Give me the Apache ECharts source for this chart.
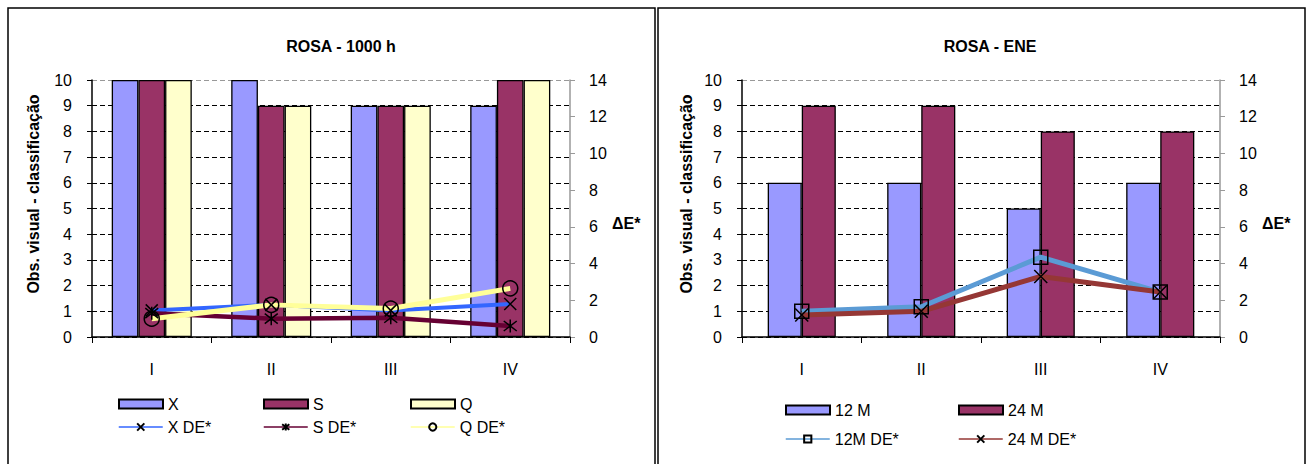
<!DOCTYPE html>
<html>
<head>
<meta charset="utf-8">
<script src="https://cdn.jsdelivr.net/npm/echarts@6/dist/echarts.min.js"></script>
<style>
html,body{margin:0;padding:0;background:#fff;}
#chart{width:1312px;height:464px;}
</style>
</head>
<body>
<div id="chart"></div>
<script>
// ---- data ----
const categories = ['I', 'II', 'III', 'IV'];
// left chart: ROSA - 1000 h
const leftX = [10, 10, 9, 9];
const leftS = [10, 9, 9, 10];
const leftQ = [10, 9, 9, 10];
const leftXDE = [1.45, 1.75, 1.45, 1.8];
const leftSDE = [1.3, 1.0, 1.05, 0.6];
const leftQDE = [1.0, 1.75, 1.55, 2.65];
// right chart: ROSA - ENE
const right12M = [6, 6, 5, 6];
const right24M = [9, 9, 8, 8];
const right12MDE = [1.4, 1.65, 4.35, 2.45];
const right24MDE = [1.2, 1.4, 3.3, 2.45];
// axis settings
const obsTicks = { min: 0, max: 10, interval: 1 };
const deTicks = { min: 0, max: 14, interval: 2 };

const FONT = 'Liberation Sans, Arial, sans-serif';
const crossPath = 'path://M0,0L10,10M10,0L0,10';
const starPath = 'path://M0,0L10,10M10,0L0,10M5,-1.5L5,11.5';

const chart = echarts.init(document.getElementById('chart'), null, { renderer: 'svg' });

const gridLineColors = ['#000','#000','#000','#000','#000','#000','#000','#000','#000','#000','#999'];

function leftAxis(gridIndex) {
  return {
    type: 'value', gridIndex, min: obsTicks.min, max: obsTicks.max, interval: obsTicks.interval,
    position: 'left',
    axisLine: { show: true, lineStyle: { color: '#000', width: 1.5 } },
    axisTick: { show: true, length: 5, lineStyle: { color: '#000', width: 1 } },
    axisLabel: { color: '#000', fontSize: 16, fontFamily: FONT, margin: 20 },
    splitLine: { show: true, lineStyle: { color: gridLineColors, type: [5, 3], width: 1 } }
  };
}
function rightAxis(gridIndex) {
  return {
    type: 'value', gridIndex, min: deTicks.min, max: deTicks.max, interval: deTicks.interval,
    position: 'right',
    axisLine: { show: true, lineStyle: { color: '#999', width: 1.5 } },
    axisTick: { show: true, length: 5, lineStyle: { color: '#999', width: 1 } },
    axisLabel: { color: '#000', fontSize: 16, fontFamily: FONT, margin: 19 },
    splitLine: { show: false }
  };
}
function catAxis(gridIndex) {
  return {
    type: 'category', gridIndex, data: categories,
    axisLine: { show: true, lineStyle: { color: '#000', width: 1.5 } },
    axisTick: { show: true, length: 6, lineStyle: { color: '#000', width: 1 } },
    axisLabel: { color: '#000', fontSize: 16, fontFamily: FONT, margin: 24 }
  };
}
function barSeries(name, data, color, xi, yi, gap) {
  return {
    name, type: 'bar', data, xAxisIndex: xi, yAxisIndex: yi,
    barGap: '0%', barCategoryGap: gap,
    itemStyle: { color, borderColor: '#000', borderWidth: 1.3 },
    z: 2
  };
}
function lineSeries(name, data, color, width, symbol, size, xi, yi) {
  return {
    name, type: 'line', data, xAxisIndex: xi, yAxisIndex: yi,
    symbol, symbolSize: size, showSymbol: true,
    lineStyle: { color, width },
    itemStyle: { color: 'rgba(0,0,0,0)', borderColor: '#000', borderWidth: 1.5 },
    z: 5
  };
}
function leg(name, left, top, isLine, lineColor) {
  const d = { name };
  if (isLine) d.lineStyle = { color: lineColor, width: 1.5 };
  else d.icon = 'rect';
  return {
    data: [d], left, top, orient: 'horizontal', selectedMode: false,
    itemWidth: 44, itemHeight: isLine ? 9 : 9, itemGap: 6, padding: 0,
    textStyle: { color: '#000', fontSize: 16, fontFamily: FONT, padding: [0, 0, 0, 0] }
  };
}

const option = {
  animation: false,
  backgroundColor: '#fff',
  title: [
    { text: 'ROSA - 1000 h', left: 336, top: 33, textAlign: 'center',
      textStyle: { fontSize: 16, fontWeight: 'bold', fontFamily: FONT, color: '#000' } },
    { text: 'ROSA - ENE', left: 985, top: 33, textAlign: 'center',
      textStyle: { fontSize: 16, fontWeight: 'bold', fontFamily: FONT, color: '#000' } }
  ],
  grid: [
    { left: 92, top: 80, width: 478, height: 257 },
    { left: 742, top: 80, width: 478, height: 257 }
  ],
  xAxis: [catAxis(0), catAxis(1)],
  yAxis: [leftAxis(0), rightAxis(0), leftAxis(1), rightAxis(1)],
  legend: [
    leg('X', 118, 396, false), leg('S', 263, 396, false), leg('Q', 410, 396, false),
    leg('X DE*', 118, 419, true, '#3366FF'), leg('S DE*', 263, 419, true, '#660033'), leg('Q DE*', 410, 419, true, '#FFFF99'),
    leg('12 M', 785, 402, false), leg('24 M', 958, 402, false),
    leg('12M DE*', 785, 431, true, '#5B9BD5'), leg('24 M DE*', 958, 431, true, '#953735')
  ],
  series: [
    barSeries('X', leftX, '#9999FF', 0, 0, '33%'),
    barSeries('S', leftS, '#993366', 0, 0, '33%'),
    barSeries('Q', leftQ, '#FFFFCC', 0, 0, '33%'),
    lineSeries('X DE*', leftXDE, '#3366FF', 4, crossPath, 12, 0, 1),
    lineSeries('S DE*', leftSDE, '#660033', 4.5, starPath, 13, 0, 1),
    lineSeries('Q DE*', leftQDE, '#FFFF99', 5, 'circle', 15, 0, 1),
    barSeries('12 M', right12M, '#9999FF', 1, 2, '43%'),
    barSeries('24 M', right24M, '#993366', 1, 2, '43%'),
    lineSeries('12M DE*', right12MDE, '#5B9BD5', 5, 'rect', 14, 1, 3),
    lineSeries('24 M DE*', right24MDE, '#953735', 5, crossPath, 13, 1, 3)
  ],
  graphic: [
    { type: 'rect', shape: { x: 8, y: 8, width: 647, height: 470 }, style: { fill: 'none', stroke: '#000', lineWidth: 1.5 }, silent: true, z: -10 },
    { type: 'rect', shape: { x: 658, y: 8, width: 647, height: 470 }, style: { fill: 'none', stroke: '#000', lineWidth: 1.5 }, silent: true, z: -10 },
    { type: 'text', x: 33, y: 194, rotation: Math.PI / 2,
      style: { text: 'Obs. visual - classificação', fontSize: 16, fontWeight: 'bold', fontFamily: FONT, fill: '#000', align: 'center', verticalAlign: 'middle' } },
    { type: 'text', x: 686, y: 194, rotation: Math.PI / 2,
      style: { text: 'Obs. visual - classificação', fontSize: 16, fontWeight: 'bold', fontFamily: FONT, fill: '#000', align: 'center', verticalAlign: 'middle' } },
    { type: 'text', x: 612, y: 223,
      style: { text: 'ΔE*', fontSize: 16, fontWeight: 'bold', fontFamily: FONT, fill: '#000', align: 'left', verticalAlign: 'middle' } },
    { type: 'text', x: 1262, y: 223,
      style: { text: 'ΔE*', fontSize: 16, fontWeight: 'bold', fontFamily: FONT, fill: '#000', align: 'left', verticalAlign: 'middle' } }
  ]
};
chart.setOption(option);
</script>
</body>
</html>
